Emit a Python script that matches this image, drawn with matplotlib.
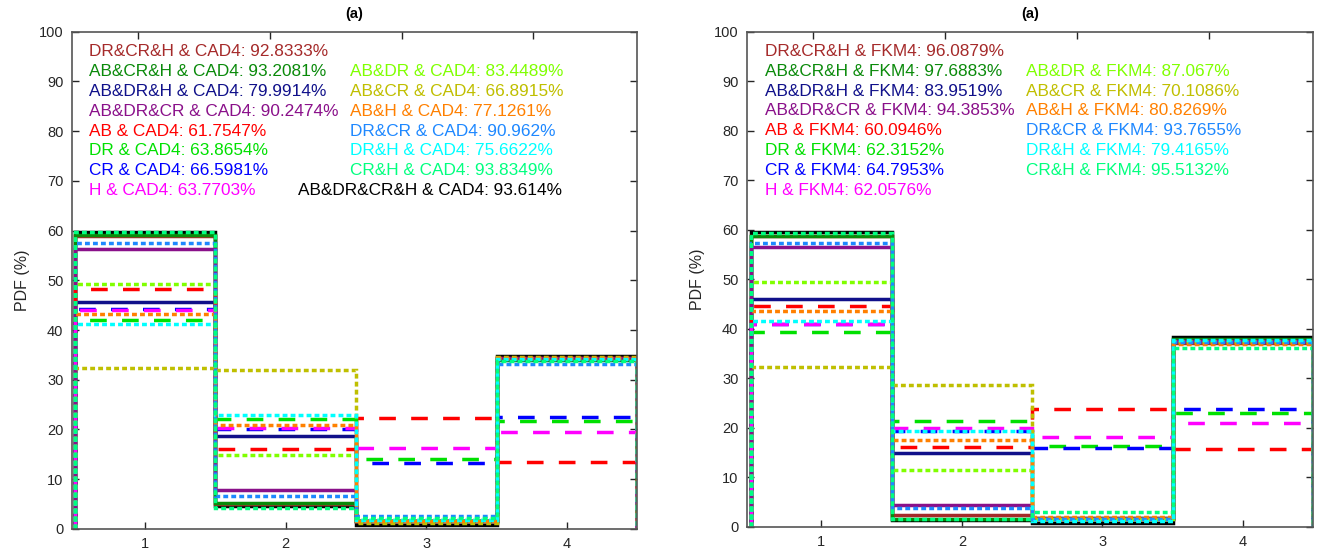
import matplotlib.pyplot as plt

plt.rcParams['font.family'] = ['Liberation Sans', 'DejaVu Sans']

# bin edges of the four classes
edges = [0.5, 1.5, 2.5, 3.5, 4.5]
xticks = [1, 2, 3, 4]

feature_sets = ['DR&CR&H', 'AB&CR&H', 'AB&DR&H', 'AB&DR&CR',
                'AB', 'DR', 'CR', 'H',
                'AB&DR', 'AB&CR', 'AB&H', 'DR&CR', 'DR&H', 'CR&H',
                'AB&DR&CR&H']

# PDF (%) of each class, one row per feature set
cad4_pdf = [
    [59.0, 5.0, 1.6, 34.4],
    [59.2, 5.3, 1.5, 34.0],
    [45.7, 18.6, 1.5, 34.2],
    [56.3, 7.8, 1.6, 34.3],
    [48.2, 16.1, 22.3, 13.4],
    [42.1, 22.2, 14.0, 21.7],
    [44.3, 20.0, 13.2, 22.5],
    [44.1, 20.2, 16.3, 19.4],
    [49.3, 14.9, 1.7, 34.1],
    [32.3, 31.9, 1.2, 34.6],
    [43.2, 20.9, 1.6, 34.3],
    [57.5, 6.7, 2.6, 33.2],
    [41.2, 22.9, 1.8, 34.1],
    [59.8, 4.2, 2.2, 33.8],
    [59.7, 4.7, 0.8, 34.8],
]
fkm4_pdf = [
    [58.8, 2.4, 1.6, 37.2],
    [58.7, 1.5, 1.8, 38.0],
    [46.0, 14.8, 1.6, 37.6],
    [56.5, 4.3, 1.7, 37.5],
    [44.6, 16.1, 23.7, 15.6],
    [39.4, 21.4, 16.2, 23.0],
    [41.0, 19.4, 15.8, 23.8],
    [40.9, 19.9, 18.2, 21.0],
    [49.5, 11.5, 1.6, 37.4],
    [32.2, 28.7, 1.5, 37.6],
    [43.5, 17.5, 2.0, 37.0],
    [57.3, 3.7, 1.6, 37.4],
    [41.6, 19.4, 1.2, 37.8],
    [59.4, 1.5, 3.0, 36.1],
    [59.6, 1.3, 0.8, 38.3],
]

cad4_acc = ['92.8333', '93.2081', '79.9914', '90.2474', '61.7547', '63.8654',
            '66.5981', '63.7703', '83.4489', '66.8915', '77.1261', '90.962',
            '75.6622', '93.8349', '93.614']
fkm4_acc = ['96.0879', '97.6883', '83.9519', '94.3853', '60.0946', '62.3152',
            '64.7953', '62.0576', '87.067', '70.1086', '80.8269', '93.7655',
            '79.4165', '95.5132', None]

colors = ['#a52a2a', '#0a8a0a', '#10108a', '#8a108a',
          '#ff0000', '#00e000', '#0000ff', '#ff00ff',
          '#80ff00', '#bfbf00', '#ff8000', '#1e88ff', '#00ffff', '#00ff80',
          '#000000']
solid = '-'
dashed = (0, (4.8, 4.4))
dotted = (0, (1.4, 0.9))
styles = [solid] * 4 + [dashed] * 4 + [dotted] * 6 + [solid]
# the all-features curve sits underneath the others
zorders = [2.2] * 14 + [2.0]

ink = '#262626'


def text_pos(i):
    # first column: 8 rows, second column: 6 rows from the second row
    if i < 8:
        return 0.6, 96 - 4 * i
    if i < 14:
        return 2.46, 92 - 4 * (i - 8)
    return 2.09, 68


def draw_panel(ax, pdf, acc, method, xlim):
    for vals, c, ls, z in zip(pdf, colors, styles, zorders):
        ax.stairs(vals, edges, baseline=0, fill=False, color=c,
                  linestyle=ls, linewidth=2.5, joinstyle='miter', zorder=z)
    for i, (name, a) in enumerate(zip(feature_sets, acc)):
        if a is None:
            continue
        x, y = text_pos(i)
        ax.text(x, y, f'{name} & {method}: {a}%', color=colors[i],
                fontsize=12.4, ha='left', va='center')
    ax.set_xlim(*xlim)
    ax.set_ylim(0, 100)
    ax.set_xticks(xticks)
    ax.set_yticks(range(0, 101, 10))
    ax.tick_params(direction='in', length=5, width=1, colors=ink,
                   labelsize=10.5, right=True, top=False, pad=6)
    for s in ax.spines.values():
        s.set_color('#555555')
        s.set_linewidth(1.2)
    ax.set_ylabel('PDF (%)', fontsize=11.5, color=ink, labelpad=6)
    ax.set_title('(a)', fontsize=10.5, fontweight='bold', pad=10)
    # ticks along the top edge
    top = ax.twiny()
    top.set_xlim(0.494, 4.79)
    top.set_xticks(xticks)
    top.tick_params(direction='in', length=5, width=1, colors=ink,
                    labeltop=False)
    for s in top.spines.values():
        s.set_visible(False)


fig = plt.figure(figsize=(13.19, 5.55), dpi=100)
ax1 = fig.add_axes([0.0544, 0.047, 0.4288, 0.896])
ax2 = fig.add_axes([0.5661, 0.051, 0.4296, 0.892])

draw_panel(ax1, cad4_pdf, cad4_acc, 'CAD4', (0.48, 4.5))
draw_panel(ax2, fkm4_pdf, fkm4_acc, 'FKM4', (0.47, 4.5))

fig.savefig('out.png', dpi=100)
